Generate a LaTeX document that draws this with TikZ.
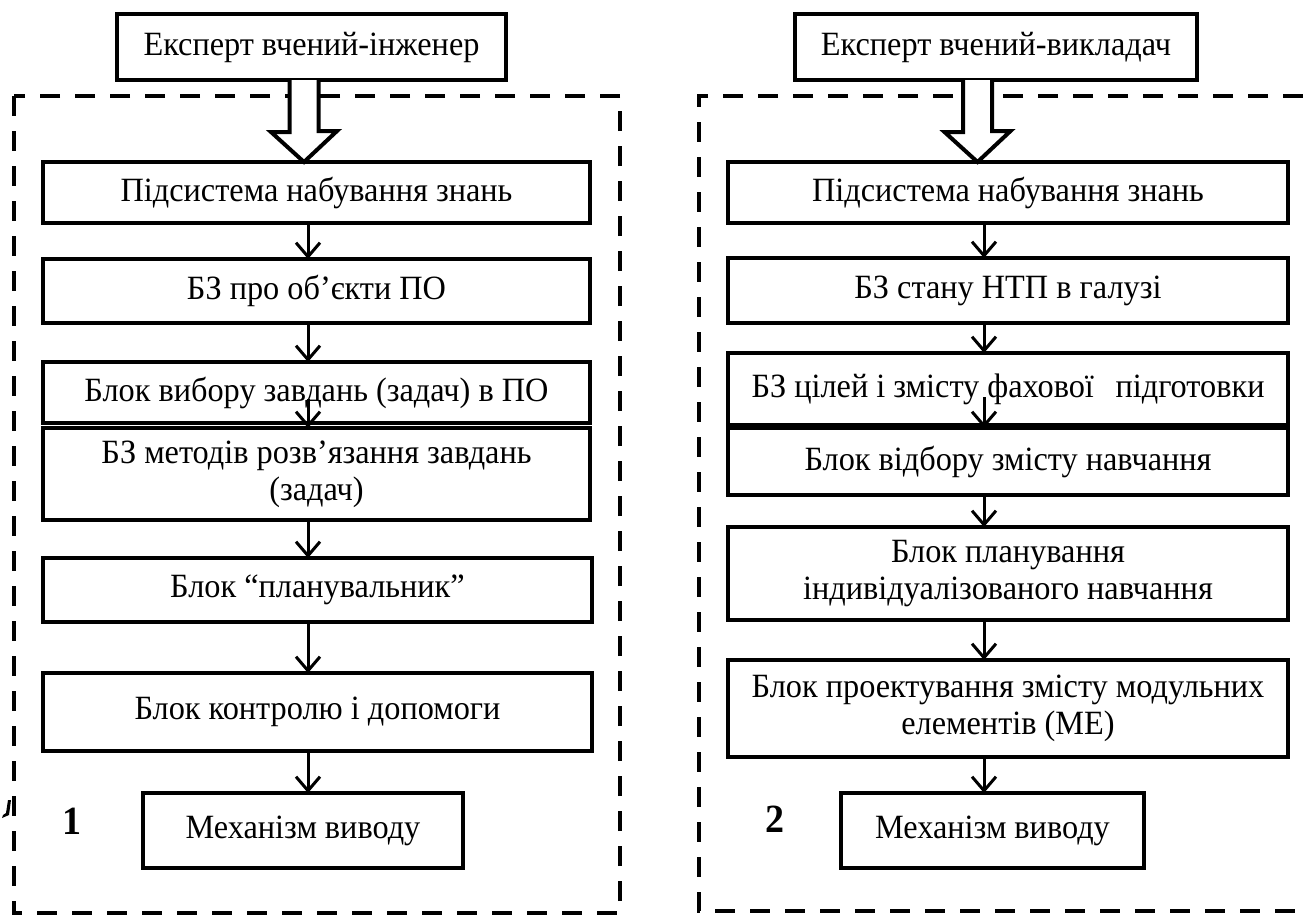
\documentclass[tikz,border=0pt]{standalone}
\usepackage{fontspec}
\setmainfont{Liberation Serif}[FakeStretch=0.95]
\usetikzlibrary{arrows.meta,calc}
\begin{document}
\begin{tikzpicture}[x=1pt,y=-1pt,
  box/.style={draw,line width=4.5pt,rectangle,inner sep=0pt,outer sep=0pt,align=center,
    font=\fontsize{34}{37}\selectfont,fill=white},
  frame/.style={line width=4.5pt,dash pattern=on 20pt off 15pt},
  arr/.style={line width=3pt,-{Straight Barb[length=14pt,width=24pt]}},
  hollow/.style={draw,line width=4pt,fill=white,line join=miter},
  lbl/.style={font=\fontsize{40}{40}\selectfont\bfseries,inner sep=0pt}]
\useasboundingbox (0,0) rectangle (1303,919);
% dashed frames
\draw[frame] (14,96) rectangle (620,913);
\draw[frame] (1303,96) -- (699,96) -- (699,911) -- (1303,911);
% left column
\coordinate (hL) at (304,0);
\coordinate (axL) at (308,0);
\node[box,minimum width=389pt,minimum height=66pt] (e1) at (311.5,47) {Експерт вчений-інженер};
\node[box,minimum width=547pt,minimum height=61pt] (a1) at (316.5,192.5) {Підсистема набування знань};
\node[box,minimum width=547pt,minimum height=64pt] (a2) at (316.5,291) {БЗ про об’єкти ПО};
\node[box,minimum width=547pt,minimum height=61pt] (a3) at (316.5,392.5) {Блок вибору завдань (задач) в ПО};
\node[box,minimum width=547pt,minimum height=92pt] (a4) at (316.5,474) {БЗ методів розв’язання завдань\\(задач)};
\node[box,minimum width=549pt,minimum height=64pt] (a5) at (317.5,590) {Блок “планувальник”};
\node[box,minimum width=549pt,minimum height=78pt] (a6) at (317.5,712) {Блок контролю і допомоги};
\node[box,minimum width=320pt,minimum height=75pt] (a7) at (303,830.5) {Механізм виводу};
\node[lbl] (n1) at (72,821) {1};
\draw[hollow] ($(e1.south -| hL)+(-14.5,0)$) -- ++(0,52) -- ++(-18.5,0)
  -- (a1.north -| hL) -- ++(33,-31) -- ++(-18.5,0) -- ($(e1.south -| hL)+(14.5,0)$);
\draw[arr] (a1.south -| axL) -- (a2.north -| axL);
\draw[arr] (a2.south -| axL) -- (a3.north -| axL);
\draw[arr] ($(a3.south -| axL)+(0,-24)$) -- (a4.north -| axL);
\draw[arr] (a4.south -| axL) -- (a5.north -| axL);
\draw[arr] (a5.south -| axL) -- (a6.north -| axL);
\draw[arr] (a6.south -| axL) -- (a7.north -| axL);
% stray mark
\fill (8,800) -- (11,800) -- (9,815) -- (2,818) -- (3,815) -- (6,813) -- cycle;
% right column
\coordinate (hR) at (977.5,0);
\coordinate (axR) at (984,0);
\node[box,minimum width=402pt,minimum height=66pt] (e2) at (996,47) {Експерт вчений-викладач};
\node[box,minimum width=560pt,minimum height=61pt] (b1) at (1008,192.5) {Підсистема набування знань};
\node[box,minimum width=560pt,minimum height=65pt] (b2) at (1008,290.5) {БЗ стану НТП в галузі};
\node[box,minimum width=560pt,minimum height=72pt] (b3) at (1008,389) {БЗ цілей і змісту фахової\hspace{0.4em} підготовки};
\node[box,minimum width=560pt,minimum height=67pt] (b4) at (1008,461.5) {Блок відбору змісту навчання};
\node[box,minimum width=560pt,minimum height=93pt] (b5) at (1008,573.5) {Блок планування\\індивідуалізованого навчання};
\node[box,minimum width=560pt,minimum height=97pt] (b6) at (1008,708.5) {Блок проектування змісту модульних\\елементів (МЕ)};
\node[box,minimum width=303pt,minimum height=75pt] (b7) at (992.5,830.5) {Механізм виводу};
\node[lbl] (n2) at (775,819) {2};
\draw[hollow] ($(e2.south -| hR)+(-14.5,0)$) -- ++(0,52) -- ++(-18.5,0)
  -- (b1.north -| hR) -- ++(33,-31) -- ++(-18.5,0) -- ($(e2.south -| hR)+(14.5,0)$);
\draw[arr] (b1.south -| axR) -- (b2.north -| axR);
\draw[arr] (b2.south -| axR) -- (b3.north -| axR);
\draw[arr] ($(b3.south -| axR)+(0,-28)$) -- (b4.north -| axR);
\draw[arr] (b4.south -| axR) -- (b5.north -| axR);
\draw[arr] (b5.south -| axR) -- (b6.north -| axR);
\draw[arr] (b6.south -| axR) -- (b7.north -| axR);
\end{tikzpicture}
\end{document}
